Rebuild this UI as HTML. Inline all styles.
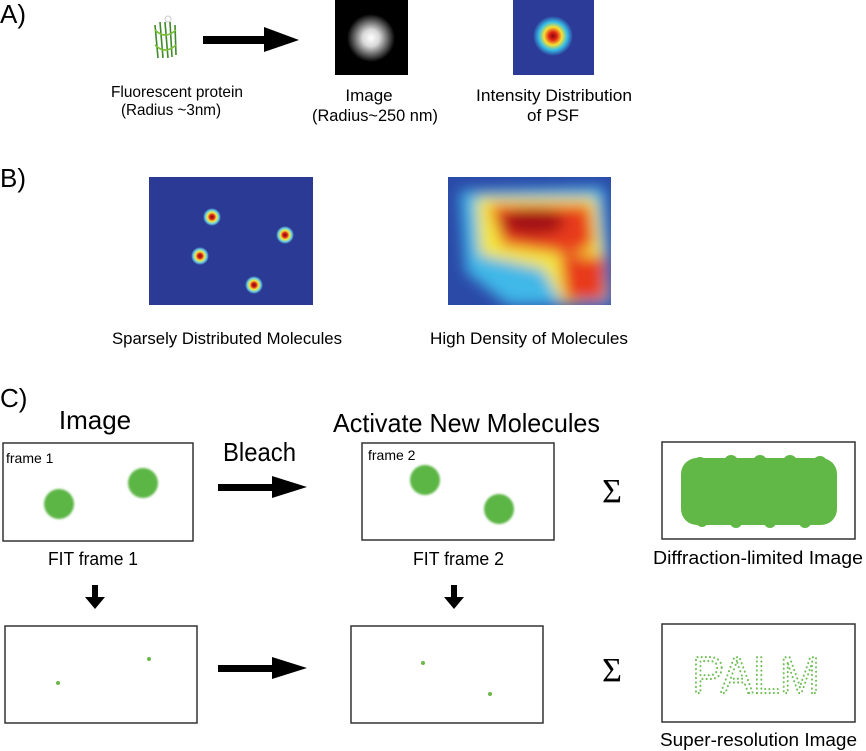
<!DOCTYPE html>
<html><head><meta charset="utf-8"><style>
html,body{margin:0;padding:0;background:#fff;}
svg{display:block;font-family:"Liberation Sans",sans-serif;}
</style></head><body>
<svg width="866" height="751" viewBox="0 0 866 751">
<defs>
<radialGradient id="spot"><stop offset="0" stop-color="#7a0a0a"/><stop offset="0.25" stop-color="#d8201a"/><stop offset="0.5" stop-color="#f6e83a"/><stop offset="0.75" stop-color="#6ad0e8"/><stop offset="1" stop-color="#2b3a94"/></radialGradient>
<radialGradient id="glow"><stop offset="0" stop-color="#fff"/><stop offset="0.35" stop-color="#d8d8d8"/><stop offset="1" stop-color="#000"/></radialGradient>
<radialGradient id="psf"><stop offset="0" stop-color="#8a0a0a"/><stop offset="0.2" stop-color="#e22418"/><stop offset="0.45" stop-color="#f8e030"/><stop offset="0.7" stop-color="#38c0e8"/><stop offset="1" stop-color="#2c3a98"/></radialGradient>
<filter id="b8"><feGaussianBlur stdDeviation="7"/></filter>
<filter id="b1"><feGaussianBlur stdDeviation="1"/></filter>
</defs>

<!-- Section A -->
<text x="0" y="23" font-size="26">A)</text>
<g stroke="#3f8a2a" stroke-width="1.6" fill="none">
<path d="M155 25 L158 58 M160 22 L163 58 M165 22 L168 58 M170 22 L172 57 M175 25 L176 55"/>
<path d="M155 30 Q165 40 176 30 M155 45 Q165 55 176 45" stroke="#7bbf3a"/>
<circle cx="168" cy="19" r="3" stroke="#ccc" stroke-width="1"/>
</g>
<g>
<rect x="203" y="36" width="64" height="8" fill="#000"/><polygon points="264,27 299,40 264,52" fill="#000"/>
</g>
<rect x="335" y="0" width="73" height="75" fill="#000"/>
<circle cx="371" cy="38" r="24" fill="url(#glow)"/>
<rect x="513" y="0" width="81" height="75" fill="#2c3a98"/>
<circle cx="553" cy="36" r="20" fill="url(#psf)"/>
<text x="111" y="97" font-size="16" textLength="132" lengthAdjust="spacingAndGlyphs">Fluorescent protein</text>
<text x="121" y="115" font-size="16" textLength="100" lengthAdjust="spacingAndGlyphs">(Radius ~3nm)</text>
<text x="369" y="101" font-size="17" text-anchor="middle">Image</text>
<text x="312" y="121" font-size="17" textLength="126" lengthAdjust="spacingAndGlyphs">(Radius~250 nm)</text>
<text x="476" y="101" font-size="17" textLength="156" lengthAdjust="spacingAndGlyphs">Intensity Distribution</text>
<text x="553" y="121" font-size="17" text-anchor="middle">of PSF</text>

<!-- Section B -->
<text x="0" y="187" font-size="26">B)</text>
<rect x="149" y="177" width="164" height="128" fill="#2b3a94"/>
<circle cx="212" cy="217" r="9" fill="url(#spot)"/>
<circle cx="285" cy="235" r="9" fill="url(#spot)"/>
<circle cx="200" cy="256" r="9" fill="url(#spot)"/>
<circle cx="254" cy="285" r="9" fill="url(#spot)"/>
<svg x="448" y="177" width="163" height="128">
<rect width="163" height="128" fill="#2b4aa8"/>
<g filter="url(#b8)">
<path d="M12 14 L156 10 L163 128 L60 128 L18 95 Z" fill="#3fb8e8"/>
<path d="M28 20 L148 20 L160 120 L115 128 L95 92 L32 78 Z" fill="#f4e640"/>
<path d="M42 28 L142 28 L146 68 L125 78 L55 68 Z" fill="#e83a1c"/>
<path d="M112 78 L158 80 L158 124 L118 124 Z" fill="#e83a1c"/>
<ellipse cx="85" cy="45" rx="32" ry="13" fill="#a00e12"/>
</g>
</svg>
<text x="112" y="344" font-size="17" textLength="230" lengthAdjust="spacingAndGlyphs">Sparsely Distributed Molecules</text>
<text x="430" y="344" font-size="17" textLength="198" lengthAdjust="spacingAndGlyphs">High Density of Molecules</text>

<!-- Section C -->
<text x="0" y="407" font-size="26">C)</text>
<text x="95" y="429" font-size="26" text-anchor="middle">Image</text>
<text x="333" y="432" font-size="26" textLength="267" lengthAdjust="spacingAndGlyphs">Activate New Molecules</text>
<text x="223" y="461" font-size="26" textLength="73" lengthAdjust="spacingAndGlyphs">Bleach</text>

<rect x="3" y="443" width="190" height="98" fill="#fff" stroke="#333" stroke-width="1.5"/>
<text x="6" y="463" font-size="14">frame 1</text>
<g fill="#5cb645" filter="url(#b1)"><circle cx="59" cy="504" r="15"/><circle cx="143" cy="483" r="15"/></g>

<g><rect x="218" y="484" width="55" height="7" fill="#000"/><polygon points="272,476 307,487 272,498" fill="#000"/></g>

<rect x="362" y="443" width="192" height="97" fill="#fff" stroke="#333" stroke-width="1.5"/>
<text x="368" y="460" font-size="14">frame 2</text>
<g fill="#5cb645" filter="url(#b1)"><circle cx="425" cy="480" r="15"/><circle cx="499" cy="509" r="15"/></g>

<text x="612" y="502" font-size="34" text-anchor="middle" font-family="Liberation Serif,serif">Σ</text>
<rect x="662" y="442" width="193" height="97" fill="#fff" stroke="#333" stroke-width="1.5"/>
<g fill="#62b847">
<rect x="681" y="458" width="156" height="67" rx="16"/>
<circle cx="700" cy="464" r="7"/><circle cx="731" cy="462" r="7"/><circle cx="760" cy="462" r="7"/><circle cx="790" cy="462" r="7"/><circle cx="820" cy="463" r="7"/>
<circle cx="702" cy="521" r="6"/><circle cx="736" cy="522" r="6"/><circle cx="770" cy="522" r="6"/><circle cx="805" cy="522" r="6"/>
</g>

<text x="48" y="565" font-size="18" textLength="90" lengthAdjust="spacingAndGlyphs">FIT frame 1</text>
<text x="413" y="565" font-size="18" textLength="91" lengthAdjust="spacingAndGlyphs">FIT frame 2</text>
<text x="653" y="564" font-size="18" textLength="210" lengthAdjust="spacingAndGlyphs">Diffraction-limited Image</text>

<g><rect x="92" y="585" width="6" height="13" fill="#000"/><polygon points="85,597 105,597 95,609" fill="#000"/></g>
<g><rect x="451" y="585" width="6" height="13" fill="#000"/><polygon points="444,597 464,597 454,609" fill="#000"/></g>

<rect x="5" y="626" width="192" height="97" fill="#fff" stroke="#333" stroke-width="1.5"/>
<circle cx="58" cy="683" r="2" fill="#6cb84a"/><circle cx="149" cy="659" r="2" fill="#6cb84a"/>
<g><rect x="218" y="665" width="55" height="7" fill="#000"/><polygon points="272,657 307,668 272,679" fill="#000"/></g>
<rect x="351" y="626" width="192" height="97" fill="#fff" stroke="#333" stroke-width="1.5"/>
<circle cx="423" cy="663" r="2" fill="#6cb84a"/><circle cx="490" cy="694" r="2" fill="#6cb84a"/>

<text x="612" y="681" font-size="34" text-anchor="middle" font-family="Liberation Serif,serif">Σ</text>
<rect x="662" y="624" width="193" height="98" fill="#fff" stroke="#333" stroke-width="1.5"/>
<text x="692" y="693" font-size="52" textLength="128" lengthAdjust="spacingAndGlyphs" fill="none" stroke="#62b847" stroke-width="2.2" stroke-dasharray="0 4.5" stroke-linecap="round" opacity="0.9">PALM</text>
<text x="660" y="746" font-size="18" textLength="197" lengthAdjust="spacingAndGlyphs">Super-resolution Image</text>
</svg>
</body></html>
